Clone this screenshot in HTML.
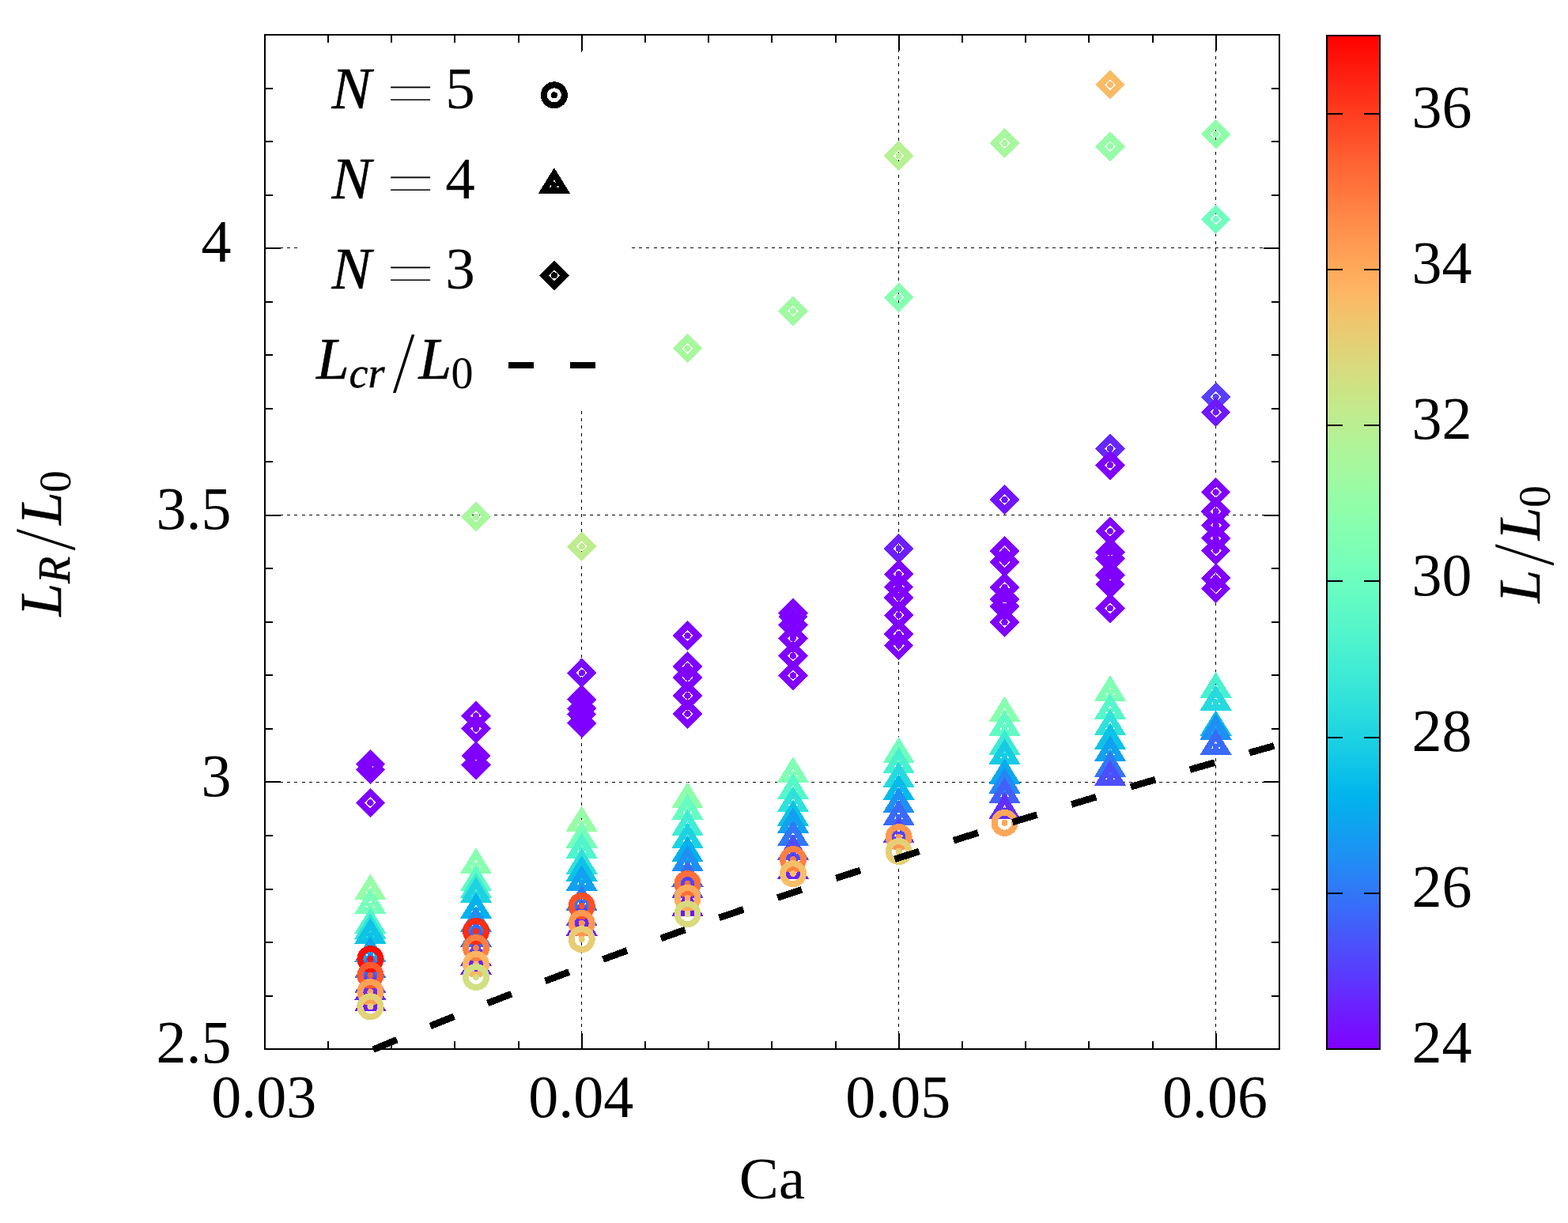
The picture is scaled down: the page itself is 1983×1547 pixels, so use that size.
<!DOCTYPE html>
<html lang="en"><head><meta charset="utf-8"><title>L_R/L_0 vs Ca</title>
<style>html,body{margin:0;padding:0;background:#fff}svg{display:block}text{font-family:"Liberation Serif","DejaVu Serif",serif;fill:#000}.i{font-style:italic;stroke:#000;stroke-width:0.5px}</style></head><body>
<svg width="1983" height="1547" viewBox="0 0 1983 1547" shape-rendering="crispEdges">
<rect width="1983" height="1547" fill="#fff"/>
<defs>
<g id="mc"><circle r="13.0" fill="none" stroke="currentColor" stroke-width="8.0"/><circle r="4.0" fill="currentColor"/></g>
<g id="mt"><path d="M0,-14.560L-13.0,6.5L13.0,6.5Z" fill="none" stroke="currentColor" stroke-width="8.0" stroke-miterlimit="10"/><circle r="4.0" fill="currentColor"/></g>
<g id="md"><path d="M0,-12.9L-12.9,0L0,12.9L12.9,0Z" fill="none" stroke="currentColor" stroke-width="8.3" stroke-miterlimit="10"/><circle r="4.15" fill="currentColor"/></g>
<linearGradient id="cb" x1="0" y1="0" x2="0" y2="1"><stop offset="0.000%" stop-color="#ff0000"/><stop offset="1.562%" stop-color="#ff0d06"/><stop offset="3.125%" stop-color="#ff190d"/><stop offset="4.688%" stop-color="#ff2513"/><stop offset="6.250%" stop-color="#ff3219"/><stop offset="7.812%" stop-color="#ff3e1f"/><stop offset="9.375%" stop-color="#ff4a25"/><stop offset="10.938%" stop-color="#ff562c"/><stop offset="12.500%" stop-color="#ff6232"/><stop offset="14.062%" stop-color="#ff6d38"/><stop offset="15.625%" stop-color="#ff783e"/><stop offset="17.188%" stop-color="#ff8344"/><stop offset="18.750%" stop-color="#ff8e4a"/><stop offset="20.312%" stop-color="#ff9850"/><stop offset="21.875%" stop-color="#ffa256"/><stop offset="23.438%" stop-color="#ffab5c"/><stop offset="25.000%" stop-color="#ffb462"/><stop offset="26.562%" stop-color="#f7bd67"/><stop offset="28.125%" stop-color="#efc56d"/><stop offset="29.688%" stop-color="#e7cd73"/><stop offset="31.250%" stop-color="#dfd478"/><stop offset="32.812%" stop-color="#d7db7e"/><stop offset="34.375%" stop-color="#cfe183"/><stop offset="35.938%" stop-color="#c7e788"/><stop offset="37.500%" stop-color="#bfec8e"/><stop offset="39.062%" stop-color="#b7f093"/><stop offset="40.625%" stop-color="#aff498"/><stop offset="42.188%" stop-color="#a7f79d"/><stop offset="43.750%" stop-color="#9ffaa2"/><stop offset="45.312%" stop-color="#97fca7"/><stop offset="46.875%" stop-color="#8ffeab"/><stop offset="48.438%" stop-color="#87ffb0"/><stop offset="50.000%" stop-color="#80ffb4"/><stop offset="51.562%" stop-color="#78ffb9"/><stop offset="53.125%" stop-color="#70febd"/><stop offset="54.688%" stop-color="#68fcc1"/><stop offset="56.250%" stop-color="#60fac5"/><stop offset="57.812%" stop-color="#58f7c9"/><stop offset="59.375%" stop-color="#50f4cd"/><stop offset="60.938%" stop-color="#48f0d0"/><stop offset="62.500%" stop-color="#40ecd4"/><stop offset="64.062%" stop-color="#38e7d7"/><stop offset="65.625%" stop-color="#30e1db"/><stop offset="67.188%" stop-color="#28dbde"/><stop offset="68.750%" stop-color="#20d4e1"/><stop offset="70.312%" stop-color="#18cde4"/><stop offset="71.875%" stop-color="#10c5e7"/><stop offset="73.438%" stop-color="#08bde9"/><stop offset="75.000%" stop-color="#00b4ec"/><stop offset="76.562%" stop-color="#08abee"/><stop offset="78.125%" stop-color="#10a2f0"/><stop offset="79.688%" stop-color="#1898f2"/><stop offset="81.250%" stop-color="#208ef4"/><stop offset="82.812%" stop-color="#2883f6"/><stop offset="84.375%" stop-color="#3078f7"/><stop offset="85.938%" stop-color="#386df9"/><stop offset="87.500%" stop-color="#4062fa"/><stop offset="89.062%" stop-color="#4856fb"/><stop offset="90.625%" stop-color="#504afc"/><stop offset="92.188%" stop-color="#583efd"/><stop offset="93.750%" stop-color="#6032fe"/><stop offset="95.312%" stop-color="#6825fe"/><stop offset="96.875%" stop-color="#7019ff"/><stop offset="98.438%" stop-color="#780dff"/><stop offset="100.000%" stop-color="#8000ff"/></linearGradient>
</defs>
<g stroke="#000" stroke-width="1" fill="none" stroke-dasharray="4.0 5.343">
<path d="M335.0,651.5H1618.0"/>
<path d="M335.0,989.5H1618.0"/>
<path d="M335.0,313.5H376.5"/>
<path d="M798.6,313.5H1618.0"/>
<path d="M735.5,1327.0V44.0"/>
<path d="M1136.5,1327.0V44.0"/>
<path d="M1537.5,1327.0V44.0"/>
</g>
<g id="pts" shape-rendering="crispEdges">
<use href="#md" x="468.4" y="966.6" color="#8000ff"/>
<use href="#md" x="468.4" y="973.4" color="#8000ff"/>
<use href="#md" x="468.4" y="1015.4" color="#8000ff"/>
<use href="#md" x="602.0" y="653.7" color="#a7f89d"/>
<use href="#md" x="602.0" y="905.4" color="#8000ff"/>
<use href="#md" x="602.0" y="921.7" color="#8000ff"/>
<use href="#md" x="602.0" y="955.9" color="#8000ff"/>
<use href="#md" x="602.0" y="967.3" color="#8000ff"/>
<use href="#md" x="735.7" y="691.2" color="#beec8e"/>
<use href="#md" x="735.7" y="851.1" color="#780bff"/>
<use href="#md" x="735.7" y="884.9" color="#8000ff"/>
<use href="#md" x="735.7" y="896.3" color="#8000ff"/>
<use href="#md" x="735.7" y="903.5" color="#8000ff"/>
<use href="#md" x="735.7" y="914.8" color="#8000ff"/>
<use href="#md" x="869.5" y="440.7" color="#a7f89d"/>
<use href="#md" x="869.5" y="804.1" color="#8000ff"/>
<use href="#md" x="869.5" y="842.9" color="#8000ff"/>
<use href="#md" x="869.5" y="856.9" color="#8000ff"/>
<use href="#md" x="869.5" y="879.9" color="#8000ff"/>
<use href="#md" x="869.5" y="902.9" color="#8000ff"/>
<use href="#md" x="1003.0" y="393.5" color="#9ffaa2"/>
<use href="#md" x="1003.0" y="779.8" color="#760fff"/>
<use href="#md" x="1003.0" y="775.5" color="#8000ff"/>
<use href="#md" x="1003.0" y="790.4" color="#8000ff"/>
<use href="#md" x="1003.0" y="807.4" color="#8000ff"/>
<use href="#md" x="1003.0" y="829.6" color="#8000ff"/>
<use href="#md" x="1003.0" y="854.5" color="#8000ff"/>
<use href="#md" x="1136.6" y="197.1" color="#b6f193"/>
<use href="#md" x="1136.6" y="376.3" color="#87ffb0"/>
<use href="#md" x="1136.6" y="694.0" color="#6d1eff"/>
<use href="#md" x="1136.6" y="726.2" color="#8000ff"/>
<use href="#md" x="1136.6" y="742.6" color="#8000ff"/>
<use href="#md" x="1136.6" y="756.1" color="#8000ff"/>
<use href="#md" x="1136.6" y="778.2" color="#8000ff"/>
<use href="#md" x="1136.6" y="802.1" color="#8000ff"/>
<use href="#md" x="1136.6" y="816.6" color="#8000ff"/>
<use href="#md" x="1270.5" y="181.0" color="#a7f89d"/>
<use href="#md" x="1270.5" y="632.0" color="#7214ff"/>
<use href="#md" x="1270.5" y="697.1" color="#8000ff"/>
<use href="#md" x="1270.5" y="710.9" color="#8000ff"/>
<use href="#md" x="1270.5" y="742.9" color="#8000ff"/>
<use href="#md" x="1270.5" y="757.9" color="#8000ff"/>
<use href="#md" x="1270.5" y="767.1" color="#8000ff"/>
<use href="#md" x="1270.5" y="787.0" color="#8000ff"/>
<use href="#md" x="1404.0" y="107.2" color="#f9bb66"/>
<use href="#md" x="1404.0" y="185.3" color="#97fca7"/>
<use href="#md" x="1404.0" y="567.4" color="#6727fe"/>
<use href="#md" x="1404.0" y="588.4" color="#8000ff"/>
<use href="#md" x="1404.0" y="671.9" color="#8000ff"/>
<use href="#md" x="1404.0" y="698.5" color="#8000ff"/>
<use href="#md" x="1404.0" y="706.4" color="#8000ff"/>
<use href="#md" x="1404.0" y="727.7" color="#8000ff"/>
<use href="#md" x="1404.0" y="739.2" color="#8000ff"/>
<use href="#md" x="1404.0" y="769.4" color="#8000ff"/>
<use href="#md" x="1537.6" y="169.8" color="#8ffeab"/>
<use href="#md" x="1537.6" y="277.4" color="#70febd"/>
<use href="#md" x="1537.6" y="502.2" color="#573ffd"/>
<use href="#md" x="1537.6" y="521.4" color="#7018ff"/>
<use href="#md" x="1537.6" y="622.6" color="#8000ff"/>
<use href="#md" x="1537.6" y="646.9" color="#8000ff"/>
<use href="#md" x="1537.6" y="664.5" color="#8000ff"/>
<use href="#md" x="1537.6" y="680.8" color="#8000ff"/>
<use href="#md" x="1537.6" y="696.5" color="#8000ff"/>
<use href="#md" x="1537.6" y="731.2" color="#8000ff"/>
<use href="#md" x="1537.6" y="744.4" color="#8000ff"/>
<use href="#mt" x="468.4" y="1127.4" color="#97fca7"/>
<use href="#mt" x="468.4" y="1145.4" color="#78ffb9"/>
<use href="#mt" x="468.4" y="1170.4" color="#50f4cc"/>
<use href="#mt" x="468.4" y="1177.3" color="#31e2da"/>
<use href="#mt" x="468.4" y="1183.3" color="#0ec3e7"/>
<use href="#mt" x="468.4" y="1206.4" color="#0ea4f0"/>
<use href="#mt" x="468.4" y="1226.5" color="#3571f8"/>
<use href="#mt" x="468.4" y="1245.5" color="#5049fc"/>
<use href="#mt" x="468.4" y="1254.4" color="#6031fe"/>
<use href="#mt" x="468.4" y="1268.5" color="#7019ff"/>
<use href="#mt" x="602.0" y="1094.5" color="#88ffb0"/>
<use href="#mt" x="602.0" y="1116.5" color="#60fac5"/>
<use href="#mt" x="602.0" y="1125.4" color="#41ecd4"/>
<use href="#mt" x="602.0" y="1131.5" color="#1ed3e1"/>
<use href="#mt" x="602.0" y="1151.5" color="#03b1ec"/>
<use href="#mt" x="602.0" y="1168.4" color="#1f8ff4"/>
<use href="#mt" x="602.0" y="1187.5" color="#3c67f9"/>
<use href="#mt" x="602.0" y="1211.3" color="#5c38fd"/>
<use href="#mt" x="602.0" y="1222.4" color="#6825fe"/>
<use href="#mt" x="735.7" y="1041.4" color="#97fca7"/>
<use href="#mt" x="735.7" y="1062.2" color="#75feba"/>
<use href="#mt" x="735.7" y="1075.3" color="#50f4cd"/>
<use href="#mt" x="735.7" y="1095.3" color="#30e1db"/>
<use href="#mt" x="735.7" y="1104.4" color="#0dc2e7"/>
<use href="#mt" x="735.7" y="1116.5" color="#11a1f0"/>
<use href="#mt" x="735.7" y="1141.6" color="#3078f7"/>
<use href="#mt" x="735.7" y="1160.6" color="#5443fd"/>
<use href="#mt" x="735.7" y="1173.4" color="#6825fe"/>
<use href="#mt" x="869.5" y="1011.4" color="#8efeac"/>
<use href="#mt" x="869.5" y="1026.2" color="#66fcc2"/>
<use href="#mt" x="869.5" y="1046.4" color="#41ecd4"/>
<use href="#mt" x="869.5" y="1062.3" color="#1ed3e1"/>
<use href="#mt" x="869.5" y="1079.5" color="#03b1ec"/>
<use href="#mt" x="869.5" y="1091.4" color="#1f8ff4"/>
<use href="#mt" x="869.5" y="1111.2" color="#396bf9"/>
<use href="#mt" x="869.5" y="1125.3" color="#5443fd"/>
<use href="#mt" x="869.5" y="1148.3" color="#7412ff"/>
<use href="#mt" x="1003.0" y="979.4" color="#7effb5"/>
<use href="#mt" x="1003.0" y="1000.6" color="#56f7ca"/>
<use href="#mt" x="1003.0" y="1016.4" color="#30e1db"/>
<use href="#mt" x="1003.0" y="1034.3" color="#0dc2e7"/>
<use href="#mt" x="1003.0" y="1043.4" color="#11a1f0"/>
<use href="#mt" x="1003.0" y="1059.6" color="#3078f7"/>
<use href="#mt" x="1003.0" y="1077.5" color="#4d4efc"/>
<use href="#mt" x="1003.0" y="1101.6" color="#6825fe"/>
<use href="#mt" x="1136.6" y="954.5" color="#6ffebd"/>
<use href="#mt" x="1136.6" y="967.5" color="#48f0d0"/>
<use href="#mt" x="1136.6" y="985.6" color="#26d9de"/>
<use href="#mt" x="1136.6" y="1001.4" color="#06bbea"/>
<use href="#mt" x="1136.6" y="1017.6" color="#1f8ff4"/>
<use href="#mt" x="1136.6" y="1033.5" color="#3a6af9"/>
<use href="#mt" x="1136.6" y="1055.5" color="#5345fd"/>
<use href="#mt" x="1270.5" y="902.7" color="#88ffb0"/>
<use href="#mt" x="1270.5" y="920.3" color="#60fac5"/>
<use href="#mt" x="1270.5" y="944.6" color="#3dead5"/>
<use href="#mt" x="1270.5" y="956.5" color="#16cbe4"/>
<use href="#mt" x="1270.5" y="981.3" color="#0aa9ee"/>
<use href="#mt" x="1270.5" y="993.3" color="#2686f5"/>
<use href="#mt" x="1270.5" y="1005.6" color="#4160fa"/>
<use href="#mt" x="1270.5" y="1025.4" color="#6130fe"/>
<use href="#mt" x="1404.0" y="876.2" color="#7effb5"/>
<use href="#mt" x="1404.0" y="899.3" color="#56f7ca"/>
<use href="#mt" x="1404.0" y="919.3" color="#30e1db"/>
<use href="#mt" x="1404.0" y="937.4" color="#0dc2e7"/>
<use href="#mt" x="1404.0" y="952.4" color="#11a1f0"/>
<use href="#mt" x="1404.0" y="972.2" color="#3078f7"/>
<use href="#mt" x="1404.0" y="983.4" color="#4d4efc"/>
<use href="#mt" x="1537.6" y="872.2" color="#48f0d0"/>
<use href="#mt" x="1537.6" y="888.3" color="#26d9de"/>
<use href="#mt" x="1537.6" y="920.4" color="#06bbea"/>
<use href="#mt" x="1537.6" y="925.2" color="#1f8ff4"/>
<use href="#mt" x="1537.6" y="944.4" color="#3a6af9"/>
<use href="#mc" x="468.4" y="1213.1" color="#ff0f08"/>
<use href="#mc" x="468.4" y="1233.7" color="#ff5a2e"/>
<use href="#mc" x="468.4" y="1255.0" color="#ffa055"/>
<use href="#mc" x="468.4" y="1273.3" color="#e2d277"/>
<use href="#mc" x="602.0" y="1178.0" color="#ff2d16"/>
<use href="#mc" x="602.0" y="1199.0" color="#ff7f42"/>
<use href="#mc" x="602.0" y="1219.8" color="#feb562"/>
<use href="#mc" x="602.0" y="1236.1" color="#d1e082"/>
<use href="#mc" x="735.7" y="1146.0" color="#ff5028"/>
<use href="#mc" x="735.7" y="1167.8" color="#ff9850"/>
<use href="#mc" x="735.7" y="1188.1" color="#e8cc72"/>
<use href="#mc" x="869.5" y="1118.0" color="#ff6f39"/>
<use href="#mc" x="869.5" y="1135.9" color="#ffab5b"/>
<use href="#mc" x="869.5" y="1156.1" color="#d8da7d"/>
<use href="#mc" x="1003.0" y="1087.0" color="#ff7f42"/>
<use href="#mc" x="1003.0" y="1105.2" color="#f6be68"/>
<use href="#mc" x="1136.6" y="1059.0" color="#ff9850"/>
<use href="#mc" x="1136.6" y="1077.0" color="#e5cf74"/>
<use href="#mc" x="1270.5" y="1040.8" color="#ffa759"/>
</g>
<path d="M472.00,1327.67L474.86,1326.47L477.73,1325.27L480.59,1324.07L483.46,1322.88L486.32,1321.68L489.19,1320.49L492.05,1319.29L494.92,1318.10L497.78,1316.92L500.65,1315.73L503.51,1314.54L506.38,1313.36L509.24,1312.18L512.11,1311.00L514.97,1309.82L517.84,1308.64L520.70,1307.47L523.57,1306.29L526.43,1305.12L529.30,1303.95L532.17,1302.78L535.03,1301.62L537.89,1300.45L540.76,1299.29L543.62,1298.12L546.49,1296.96L549.35,1295.80L552.22,1294.64L555.09,1293.49L557.95,1292.33L560.82,1291.18L563.68,1290.03L566.54,1288.88L569.41,1287.73L572.27,1286.58L575.14,1285.44L578.00,1284.29L580.87,1283.15L583.73,1282.01L586.60,1280.87L589.47,1279.73L592.33,1278.60L595.20,1277.46L598.06,1276.33L600.92,1275.19L603.79,1274.06L606.65,1272.94L609.52,1271.81L612.38,1270.68L615.25,1269.56L618.12,1268.43L620.98,1267.31L623.85,1266.19L626.71,1265.07L629.57,1263.95L632.44,1262.84L635.30,1261.72L638.17,1260.61L641.03,1259.50L643.90,1258.39L646.76,1257.28L649.63,1256.17L652.50,1255.06L655.36,1253.96L658.22,1252.86L661.09,1251.75L663.95,1250.65L666.82,1249.55L669.68,1248.46L672.55,1247.36L675.41,1246.26L678.28,1245.17L681.14,1244.08L684.01,1242.99L686.87,1241.90L689.74,1240.81L692.60,1239.72L695.47,1238.63L698.33,1237.55L701.20,1236.47L704.06,1235.38L706.93,1234.30L709.79,1233.22L712.66,1232.15L715.52,1231.07L718.39,1229.99L721.26,1228.92L724.12,1227.85L726.98,1226.78L729.85,1225.70L732.71,1224.64L735.58,1223.57L738.44,1222.50L741.31,1221.44L744.17,1220.37L747.04,1219.31L749.91,1218.25L752.77,1217.19L755.63,1216.13L758.50,1215.07L761.36,1214.02L764.23,1212.96L767.10,1211.91L769.96,1210.85L772.83,1209.80L775.69,1208.75L778.56,1207.70L781.42,1206.65L784.28,1205.61L787.15,1204.56L790.01,1203.52L792.88,1202.48L795.74,1201.43L798.61,1200.39L801.47,1199.35L804.34,1198.32L807.20,1197.28L810.07,1196.24L812.93,1195.21L815.80,1194.17L818.66,1193.14L821.53,1192.11L824.39,1191.08L827.26,1190.05L830.12,1189.02L832.99,1188.00L835.86,1186.97L838.72,1185.95L841.58,1184.93L844.45,1183.90L847.32,1182.88L850.18,1181.86L853.04,1180.84L855.91,1179.83L858.77,1178.81L861.64,1177.80L864.50,1176.78L867.37,1175.77L870.23,1174.76L873.10,1173.75L875.96,1172.74L878.83,1171.73L881.69,1170.72L884.56,1169.71L887.42,1168.71L890.29,1167.71L893.15,1166.70L896.02,1165.70L898.88,1164.70L901.75,1163.70L904.62,1162.70L907.48,1161.70L910.34,1160.71L913.21,1159.71L916.07,1158.72L918.94,1157.72L921.80,1156.73L924.67,1155.74L927.53,1154.75L930.40,1153.76L933.27,1152.77L936.13,1151.79L938.99,1150.80L941.86,1149.82L944.72,1148.83L947.59,1147.85L950.45,1146.87L953.32,1145.89L956.18,1144.91L959.05,1143.93L961.92,1142.95L964.78,1141.97L967.64,1141.00L970.51,1140.02L973.37,1139.05L976.24,1138.08L979.10,1137.11L981.97,1136.13L984.84,1135.17L987.70,1134.20L990.57,1133.23L993.43,1132.26L996.30,1131.30L999.16,1130.33L1002.03,1129.37L1004.89,1128.41L1007.75,1127.44L1010.62,1126.48L1013.49,1125.52L1016.35,1124.56L1019.22,1123.61L1022.08,1122.65L1024.94,1121.69L1027.81,1120.74L1030.67,1119.79L1033.54,1118.83L1036.40,1117.88L1039.27,1116.93L1042.13,1115.98L1045.00,1115.03L1047.87,1114.08L1050.73,1113.14L1053.60,1112.19L1056.46,1111.24L1059.33,1110.30L1062.19,1109.36L1065.05,1108.41L1067.92,1107.47L1070.78,1106.53L1073.65,1105.59L1076.51,1104.65L1079.38,1103.71L1082.24,1102.78L1085.11,1101.84L1087.98,1100.91L1090.84,1099.97L1093.70,1099.04L1096.57,1098.11L1099.43,1097.17L1102.30,1096.24L1105.16,1095.31L1108.03,1094.38L1110.89,1093.46L1113.76,1092.53L1116.62,1091.60L1119.49,1090.68L1122.35,1089.75L1125.22,1088.83L1128.08,1087.91L1130.95,1086.99L1133.81,1086.07L1136.68,1085.15L1139.54,1084.23L1142.41,1083.31L1145.28,1082.39L1148.14,1081.47L1151.00,1080.56L1153.87,1079.64L1156.74,1078.73L1159.60,1077.82L1162.46,1076.91L1165.33,1075.99L1168.19,1075.08L1171.06,1074.17L1173.93,1073.27L1176.79,1072.36L1179.65,1071.45L1182.52,1070.54L1185.39,1069.64L1188.25,1068.73L1191.11,1067.83L1193.98,1066.93L1196.84,1066.03L1199.71,1065.12L1202.57,1064.22L1205.44,1063.32L1208.31,1062.43L1211.17,1061.53L1214.04,1060.63L1216.90,1059.74L1219.76,1058.84L1222.63,1057.95L1225.50,1057.05L1228.36,1056.16L1231.22,1055.27L1234.09,1054.38L1236.95,1053.48L1239.82,1052.60L1242.68,1051.71L1245.55,1050.82L1248.41,1049.93L1251.28,1049.04L1254.14,1048.16L1257.01,1047.27L1259.88,1046.39L1262.74,1045.51L1265.61,1044.62L1268.47,1043.74L1271.34,1042.86L1274.20,1041.98L1277.06,1041.10L1279.93,1040.22L1282.80,1039.35L1285.66,1038.47L1288.52,1037.59L1291.39,1036.72L1294.25,1035.84L1297.12,1034.97L1299.99,1034.10L1302.85,1033.22L1305.71,1032.35L1308.58,1031.48L1311.45,1030.61L1314.31,1029.74L1317.17,1028.87L1320.04,1028.01L1322.90,1027.14L1325.77,1026.27L1328.63,1025.41L1331.50,1024.54L1334.37,1023.68L1337.23,1022.81L1340.10,1021.95L1342.96,1021.09L1345.82,1020.23L1348.69,1019.37L1351.56,1018.51L1354.42,1017.65L1357.28,1016.79L1360.15,1015.93L1363.01,1015.08L1365.88,1014.22L1368.74,1013.37L1371.61,1012.51L1374.47,1011.66L1377.34,1010.81L1380.21,1009.95L1383.07,1009.10L1385.93,1008.25L1388.80,1007.40L1391.66,1006.55L1394.53,1005.70L1397.40,1004.86L1400.26,1004.01L1403.12,1003.16L1405.99,1002.32L1408.86,1001.47L1411.72,1000.63L1414.59,999.78L1417.45,998.94L1420.31,998.10L1423.18,997.26L1426.05,996.42L1428.91,995.58L1431.78,994.74L1434.64,993.90L1437.50,993.06L1440.37,992.22L1443.23,991.39L1446.10,990.55L1448.96,989.71L1451.83,988.88L1454.69,988.05L1457.56,987.21L1460.42,986.38L1463.29,985.55L1466.16,984.72L1469.02,983.89L1471.88,983.06L1474.75,982.23L1477.62,981.40L1480.48,980.57L1483.35,979.75L1486.21,978.92L1489.07,978.09L1491.94,977.27L1494.81,976.44L1497.67,975.62L1500.53,974.80L1503.40,973.97L1506.26,973.15L1509.13,972.33L1511.99,971.51L1514.86,970.69L1517.72,969.87L1520.59,969.05L1523.46,968.24L1526.32,967.42L1529.18,966.60L1532.05,965.79L1534.91,964.97L1537.78,964.16L1540.64,963.34L1543.51,962.53L1546.38,961.72L1549.24,960.90L1552.11,960.09L1554.97,959.28L1557.84,958.47L1560.70,957.66L1563.57,956.85L1566.43,956.05L1569.30,955.24L1572.16,954.43L1575.03,953.63L1577.89,952.82L1580.76,952.02L1583.62,951.21L1586.48,950.41L1589.35,949.60L1592.22,948.80L1595.08,948.00L1597.94,947.20L1600.81,946.40L1603.67,945.60L1606.54,944.80L1609.40,944.00L1612.27,943.20L1615.13,942.40L1618.00,941.61" fill="none" stroke="#000" stroke-width="8.6" stroke-dasharray="32.5 45.54"/>
<g stroke="#000" stroke-width="2" fill="none" shape-rendering="crispEdges">
<rect x="335.0" y="44.0" width="1283.0" height="1283.0"/>
<path d="M335,1327.0v-20M335,44.0v20M415,1327.0v-10M415,44.0v10M495,1327.0v-10M495,44.0v10M575,1327.0v-10M575,44.0v10M656,1327.0v-10M656,44.0v10M736,1327.0v-20M736,44.0v20M816,1327.0v-10M816,44.0v10M896,1327.0v-10M896,44.0v10M976,1327.0v-10M976,44.0v10M1057,1327.0v-10M1057,44.0v10M1137,1327.0v-20M1137,44.0v20M1217,1327.0v-10M1217,44.0v10M1297,1327.0v-10M1297,44.0v10M1377,1327.0v-10M1377,44.0v10M1458,1327.0v-10M1458,44.0v10M1538,1327.0v-20M1538,44.0v20M1618,1327.0v-10M1618,44.0v10M335.0,1327h20M1618.0,1327h-20M335.0,1260h10M1618.0,1260h-10M335.0,1192h10M1618.0,1192h-10M335.0,1125h10M1618.0,1125h-10M335.0,1057h10M1618.0,1057h-10M335.0,989h20M1618.0,989h-20M335.0,922h10M1618.0,922h-10M335.0,854h10M1618.0,854h-10M335.0,787h10M1618.0,787h-10M335.0,719h10M1618.0,719h-10M335.0,652h20M1618.0,652h-20M335.0,584h10M1618.0,584h-10M335.0,517h10M1618.0,517h-10M335.0,449h10M1618.0,449h-10M335.0,382h10M1618.0,382h-10M335.0,314h20M1618.0,314h-20M335.0,247h10M1618.0,247h-10M335.0,179h10M1618.0,179h-10M335.0,112h10M1618.0,112h-10M335.0,44h10M1618.0,44h-10"/>
</g>
<rect x="375.6" y="66" width="422.6" height="452.7" fill="#fff"/>
<g color="#000">
<use href="#mc" x="700.9" y="120.3"/>
<use href="#mt" x="700.9" y="234.3"/>
<use href="#md" x="700.9" y="348.4"/>
</g>
<path d="M642.8,461.9H759" fill="none" stroke="#000" stroke-width="8.1" stroke-dasharray="32.5 45.54"/>
<text class="i" font-size="75.0" x="419.6" y="136.7">N</text>
<clipPath id="ce494_136"><rect x="493.0" y="109.60" width="52.0" height="2.2"/><rect x="493.0" y="124.80" width="52.0" height="2.2"/></clipPath>
<g clip-path="url(#ce494_136)"><text font-size="75.0" transform="translate(488.65,148.68) scale(1.4327,1.22)">=</text></g>
<text font-size="75.0" x="563.2" y="136.7">5</text>
<text class="i" font-size="75.0" x="419.6" y="250.6">N</text>
<clipPath id="ce494_250"><rect x="493.0" y="223.50" width="52.0" height="2.2"/><rect x="493.0" y="238.70" width="52.0" height="2.2"/></clipPath>
<g clip-path="url(#ce494_250)"><text font-size="75.0" transform="translate(488.65,262.58) scale(1.4327,1.22)">=</text></g>
<text font-size="75.0" x="563.2" y="250.6">4</text>
<text class="i" font-size="75.0" x="419.6" y="364.6">N</text>
<clipPath id="ce494_364"><rect x="493.0" y="337.50" width="52.0" height="2.2"/><rect x="493.0" y="352.70" width="52.0" height="2.2"/></clipPath>
<g clip-path="url(#ce494_364)"><text font-size="75.0" transform="translate(488.65,376.58) scale(1.4327,1.22)">=</text></g>
<text font-size="75.0" x="563.2" y="364.6">3</text>
<text class="i" font-size="75.0" x="400.0" y="478.7">L</text>
<text class="i" font-size="56.0" x="441.6" y="490.3" style="font-size:54px">cr</text>
<text font-size="75.0" transform="matrix(1,0,-0.1308,1.4710,496.90,495.92)">/</text>
<text class="i" font-size="75.0" x="529.6" y="478.7">L</text>
<text font-size="56.0" x="570.4" y="491.09999999999997">0</text>
<text font-size="76.0" text-anchor="end" x="292.6" y="1344.3">2.5</text>
<text font-size="76.0" text-anchor="end" x="292.6" y="1006.7">3</text>
<text font-size="76.0" text-anchor="end" x="292.6" y="669.0">3.5</text>
<text font-size="76.0" text-anchor="end" x="292.6" y="331.4">4</text>
<text font-size="76.0" text-anchor="middle" x="333.8" y="1413.2">0.03</text>
<text font-size="76.0" text-anchor="middle" x="734.7" y="1413.2">0.04</text>
<text font-size="76.0" text-anchor="middle" x="1135.7" y="1413.2">0.05</text>
<text font-size="76.0" text-anchor="middle" x="1536.6" y="1413.2">0.06</text>
<text font-size="75.0" text-anchor="middle" x="976.5" y="1516">Ca</text>
<rect x="1678.0" y="45.0" width="67.0" height="1282.0" fill="url(#cb)"/>
<g stroke="#000" stroke-width="2" fill="none" shape-rendering="crispEdges">
<rect x="1678.0" y="45.0" width="67.0" height="1282.0"/>
<path d="M1678.0,1130h20M1745.0,1130h-20M1678.0,933h20M1745.0,933h-20M1678.0,735h20M1745.0,735h-20M1678.0,538h20M1745.0,538h-20M1678.0,341h20M1745.0,341h-20M1678.0,144h20M1745.0,144h-20"/>
</g>
<text font-size="76.0" x="1785.5" y="1344.3">24</text>
<text font-size="76.0" x="1785.5" y="1147.1">26</text>
<text font-size="76.0" x="1785.5" y="949.8">28</text>
<text font-size="76.0" x="1785.5" y="752.6">30</text>
<text font-size="76.0" x="1785.5" y="555.4">32</text>
<text font-size="76.0" x="1785.5" y="358.1">34</text>
<text font-size="76.0" x="1785.5" y="160.9">36</text>
<g transform="translate(76.9,779.5) rotate(-90)">
<text class="i" font-size="75.0" x="0" y="0">L</text>
<text class="i" font-size="56.0" x="41.4" y="11.2">R</text>
<text font-size="75.0" transform="matrix(1,0,-0.1308,1.4710,83.20,17.22)">/</text>
<text class="i" font-size="75.0" x="115.4" y="0">L</text>
<text font-size="56.0" x="156.6" y="12.4">0</text>
</g>
<g transform="translate(1947.1,762.5) rotate(-90)">
<text class="i" font-size="75.0" x="0" y="0">L</text>
<text font-size="75.0" transform="matrix(1,0,-0.1308,1.4710,46.90,17.22)">/</text>
<text class="i" font-size="75.0" x="79.2" y="0">L</text>
<text font-size="56.0" x="120.6" y="12.6">0</text>
</g>
</svg></body></html>
